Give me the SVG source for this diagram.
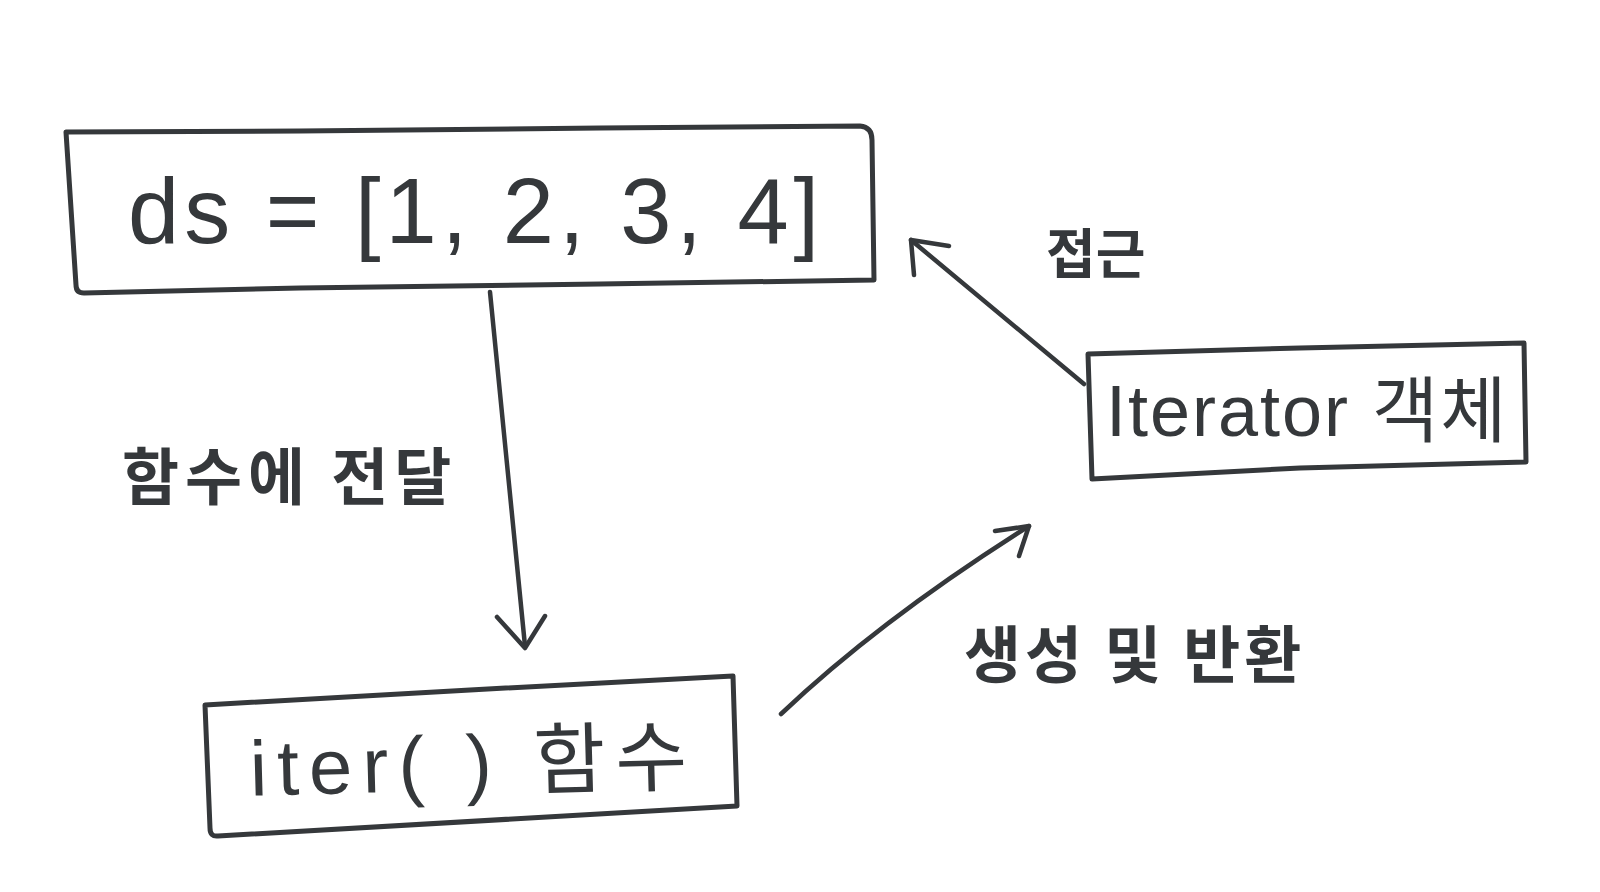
<svg xmlns="http://www.w3.org/2000/svg" width="1600" height="892" viewBox="0 0 1600 892">
<style>
.box{fill:none;stroke:#35383b;stroke-width:5;stroke-linejoin:round;stroke-linecap:round}
.edge{fill:none;stroke:#35383b;stroke-width:4.5;stroke-linecap:round;stroke-linejoin:round}
.t{fill:#35383b;font-family:"Liberation Sans","Noto Sans CJK KR",sans-serif}
.k{fill:#35383b;font-family:"Noto Sans CJK KR",sans-serif;font-weight:bold}
</style>
<rect width="1600" height="892" fill="#ffffff"/>
<g id="node-ds">
<path class="box" d="M66,132 L300,131 L600,128 L860,126 Q872,127 872,140 L874,280 L600,284 L300,288 L84,293 Q76,293 76,285 L66,132 Z"/>
<text class="t" x="128" y="243" font-size="92" letter-spacing="5">ds = [1, 2, 3, 4]</text>
</g>
<g id="node-iter">
<path class="box" d="M205,705 L470,690 L733,676 L737,806 L218,836 Q210,837 210,828 L205,705 Z"/>
<text class="t" x="250" y="790" font-size="78" letter-spacing="10" transform="rotate(-1.5 470 770)">iter( ) 함수</text>
</g>
<g id="node-iterator">
<path class="box" d="M1088,354 L1300,348 L1524,343 L1526,462 L1300,468 L1092,479 Z"/>
<text class="t" x="1106" y="436" font-size="72" letter-spacing="2">Iterator 객체</text>
</g>
<g id="connectors">
<path class="edge" d="M490,292 L525,646"/>
<path class="edge" d="M497,617 L525,648 L545,616"/>
<path class="edge" d="M781,714 Q880,620 1029,526"/>
<path class="edge" d="M995,531 L1029,526 L1019,556"/>
<path class="edge" d="M1084,384 L911,240"/>
<path class="edge" d="M949,246 L911,240 L914,275"/>
</g>
<g id="labels">
<text class="k" x="122" y="500" font-size="62" letter-spacing="6">함수에 전달</text>
<text class="k" x="1046" y="274" font-size="54">접근</text>
<text class="k" x="964" y="678" font-size="62" letter-spacing="4">생성 및 반환</text>
</g>
</svg>
